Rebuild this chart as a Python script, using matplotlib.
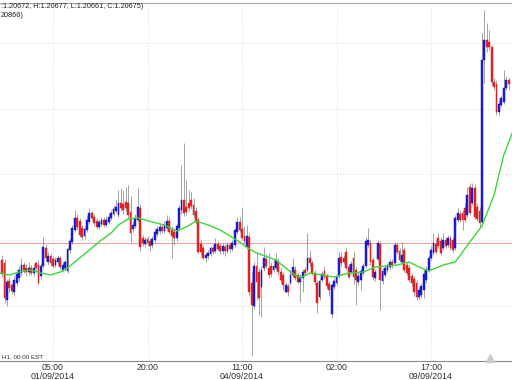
import numpy as np
import matplotlib
matplotlib.use("Agg")
import matplotlib.pyplot as plt

# H1 candles (oldest first)
opens = [
    1.20740, 1.20737, 1.20700, 1.20719, 1.20715, 1.20708, 1.20717, 1.20722, 1.20727, 1.20735,
    1.20732, 1.20728, 1.20732, 1.20727, 1.20737, 1.20735, 1.20724, 1.20734, 1.20752, 1.20738,
    1.20744, 1.20741, 1.20735, 1.20738, 1.20742, 1.20730, 1.20732, 1.20729, 1.20750, 1.20758,
    1.20770, 1.20782, 1.20779, 1.20772, 1.20764, 1.20770, 1.20778, 1.20787, 1.20783, 1.20779,
    1.20773, 1.20776, 1.20780, 1.20775, 1.20778, 1.20782, 1.20786, 1.20789, 1.20785, 1.20797,
    1.20796, 1.20798, 1.20797, 1.20788, 1.20771, 1.20774, 1.20780, 1.20792, 1.20762, 1.20756,
    1.20761, 1.20759, 1.20755, 1.20760, 1.20766, 1.20769, 1.20773, 1.20769, 1.20772, 1.20779,
    1.20770, 1.20768, 1.20762, 1.20772, 1.20790, 1.20800, 1.20793, 1.20797, 1.20800, 1.20795,
    1.20789, 1.20780, 1.20756, 1.20752, 1.20742, 1.20744, 1.20746, 1.20752, 1.20749, 1.20756,
    1.20754, 1.20749, 1.20753, 1.20749, 1.20755, 1.20751, 1.20755, 1.20768, 1.20778, 1.20771,
    1.20764, 1.20753, 1.20763, 1.20717, 1.20694, 1.20734, 1.20728, 1.20713, 1.20732, 1.20741,
    1.20732, 1.20734, 1.20730, 1.20732, 1.20738, 1.20728, 1.20725, 1.20708, 1.20714, 1.20717,
    1.20725, 1.20730, 1.20725, 1.20718, 1.20722, 1.20730, 1.20730, 1.20742, 1.20737, 1.20727,
    1.20717, 1.20703, 1.20720, 1.20729, 1.20724, 1.20716, 1.20686, 1.20713, 1.20717, 1.20724,
    1.20743, 1.20742, 1.20748, 1.20733, 1.20728, 1.20742, 1.20730, 1.20718, 1.20720, 1.20727,
    1.20734, 1.20755, 1.20757, 1.20740, 1.20722, 1.20741, 1.20756, 1.20719, 1.20725, 1.20730,
    1.20733, 1.20738, 1.20737, 1.20755, 1.20749, 1.20738, 1.20750, 1.20735, 1.20732, 1.20724,
    1.20721, 1.20717, 1.20703, 1.20705, 1.20710, 1.20720, 1.20730, 1.20742, 1.20747, 1.20756,
    1.20762, 1.20759, 1.20752, 1.20760, 1.20755, 1.20762, 1.20760, 1.20752, 1.20780, 1.20786,
    1.20787, 1.20792, 1.20785, 1.20813, 1.20797, 1.20812, 1.20793, 1.20789, 1.20778, 1.20940,
    1.20960, 1.20958, 1.20953, 1.20918, 1.20916, 1.20888, 1.20895, 1.20898, 1.20912, 1.20920,
]
highs = [
    1.20745, 1.20741, 1.20721, 1.20723, 1.20717, 1.20724, 1.20730, 1.20734, 1.20742, 1.20738,
    1.20736, 1.20738, 1.20735, 1.20736, 1.20739, 1.20740, 1.20737, 1.20763, 1.20756, 1.20748,
    1.20747, 1.20744, 1.20743, 1.20745, 1.20744, 1.20738, 1.20740, 1.20753, 1.20762, 1.20775,
    1.20790, 1.20786, 1.20782, 1.20775, 1.20774, 1.20784, 1.20792, 1.20789, 1.20786, 1.20782,
    1.20781, 1.20783, 1.20783, 1.20784, 1.20787, 1.20790, 1.20795, 1.20800, 1.20810, 1.20812,
    1.20810, 1.20813, 1.20815, 1.20804, 1.20778, 1.20786, 1.20812, 1.20796, 1.20765, 1.20763,
    1.20764, 1.20762, 1.20764, 1.20771, 1.20774, 1.20776, 1.20776, 1.20779, 1.20785, 1.20783,
    1.20774, 1.20772, 1.20776, 1.20795, 1.20835, 1.20857, 1.20820, 1.20810, 1.20808, 1.20802,
    1.20793, 1.20783, 1.20760, 1.20755, 1.20748, 1.20750, 1.20754, 1.20755, 1.20762, 1.20759,
    1.20757, 1.20757, 1.20756, 1.20758, 1.20758, 1.20760, 1.20772, 1.20783, 1.20783, 1.20792,
    1.20774, 1.20775, 1.20767, 1.20728, 1.20738, 1.20747, 1.20732, 1.20734, 1.20753, 1.20746,
    1.20747, 1.20738, 1.20740, 1.20747, 1.20742, 1.20732, 1.20728, 1.20718, 1.20717, 1.20729,
    1.20742, 1.20734, 1.20728, 1.20726, 1.20731, 1.20733, 1.20767, 1.20750, 1.20740, 1.20730,
    1.20720, 1.20722, 1.20729, 1.20734, 1.20727, 1.20719, 1.20717, 1.20722, 1.20726, 1.20748,
    1.20748, 1.20745, 1.20752, 1.20736, 1.20739, 1.20749, 1.20733, 1.20727, 1.20732, 1.20737,
    1.20763, 1.20772, 1.20760, 1.20743, 1.20731, 1.20760, 1.20759, 1.20732, 1.20735, 1.20737,
    1.20741, 1.20741, 1.20758, 1.20757, 1.20752, 1.20758, 1.20753, 1.20738, 1.20735, 1.20727,
    1.20724, 1.20720, 1.20713, 1.20717, 1.20730, 1.20734, 1.20745, 1.20754, 1.20767, 1.20760,
    1.20767, 1.20763, 1.20767, 1.20763, 1.20765, 1.20765, 1.20763, 1.20785, 1.20792, 1.20789,
    1.20790, 1.20797, 1.20813, 1.20817, 1.20817, 1.20816, 1.20797, 1.20793, 1.20967, 1.20990,
    1.20977, 1.20970, 1.20955, 1.20922, 1.20920, 1.20900, 1.20905, 1.20930, 1.20924, 1.20923,
]
lows = [
    1.20723, 1.20697, 1.20694, 1.20708, 1.20706, 1.20705, 1.20714, 1.20719, 1.20724, 1.20727,
    1.20724, 1.20724, 1.20725, 1.20724, 1.20729, 1.20715, 1.20721, 1.20732, 1.20739, 1.20735,
    1.20734, 1.20732, 1.20733, 1.20735, 1.20731, 1.20728, 1.20729, 1.20727, 1.20747, 1.20756,
    1.20768, 1.20770, 1.20763, 1.20760, 1.20761, 1.20768, 1.20776, 1.20780, 1.20774, 1.20771,
    1.20771, 1.20774, 1.20773, 1.20773, 1.20776, 1.20780, 1.20784, 1.20787, 1.20783, 1.20789,
    1.20786, 1.20789, 1.20782, 1.20758, 1.20768, 1.20772, 1.20778, 1.20749, 1.20754, 1.20753,
    1.20754, 1.20749, 1.20752, 1.20757, 1.20764, 1.20766, 1.20767, 1.20767, 1.20770, 1.20766,
    1.20742, 1.20755, 1.20759, 1.20769, 1.20786, 1.20784, 1.20785, 1.20789, 1.20791, 1.20783,
    1.20776, 1.20746, 1.20745, 1.20740, 1.20738, 1.20741, 1.20744, 1.20746, 1.20747, 1.20749,
    1.20746, 1.20746, 1.20744, 1.20747, 1.20748, 1.20749, 1.20753, 1.20766, 1.20768, 1.20760,
    1.20757, 1.20751, 1.20704, 1.20644, 1.20691, 1.20700, 1.20685, 1.20683, 1.20729, 1.20732,
    1.20722, 1.20723, 1.20728, 1.20730, 1.20725, 1.20717, 1.20710, 1.20707, 1.20704, 1.20715,
    1.20723, 1.20720, 1.20716, 1.20698, 1.20708, 1.20725, 1.20728, 1.20734, 1.20725, 1.20715,
    1.20687, 1.20700, 1.20718, 1.20721, 1.20711, 1.20704, 1.20682, 1.20711, 1.20715, 1.20722,
    1.20734, 1.20736, 1.20730, 1.20721, 1.20726, 1.20716, 1.20695, 1.20715, 1.20710, 1.20725,
    1.20732, 1.20753, 1.20735, 1.20720, 1.20719, 1.20739, 1.20690, 1.20716, 1.20723, 1.20728,
    1.20731, 1.20732, 1.20735, 1.20746, 1.20738, 1.20736, 1.20728, 1.20725, 1.20718, 1.20714,
    1.20704, 1.20700, 1.20700, 1.20702, 1.20702, 1.20717, 1.20728, 1.20740, 1.20745, 1.20746,
    1.20752, 1.20745, 1.20750, 1.20752, 1.20753, 1.20750, 1.20748, 1.20750, 1.20778, 1.20778,
    1.20770, 1.20778, 1.20783, 1.20785, 1.20795, 1.20781, 1.20779, 1.20773, 1.20774, 1.20917,
    1.20948, 1.20950, 1.20915, 1.20910, 1.20885, 1.20885, 1.20893, 1.20896, 1.20910, 1.20910,
]
closes = [
    1.20726, 1.20702, 1.20718, 1.20712, 1.20709, 1.20720, 1.20726, 1.20730, 1.20735, 1.20730,
    1.20728, 1.20732, 1.20727, 1.20732, 1.20732, 1.20717, 1.20734, 1.20753, 1.20742, 1.20744,
    1.20737, 1.20734, 1.20740, 1.20742, 1.20733, 1.20735, 1.20738, 1.20751, 1.20759, 1.20772,
    1.20782, 1.20773, 1.20765, 1.20763, 1.20771, 1.20780, 1.20787, 1.20782, 1.20777, 1.20773,
    1.20778, 1.20780, 1.20775, 1.20780, 1.20783, 1.20787, 1.20791, 1.20793, 1.20797, 1.20792,
    1.20790, 1.20792, 1.20785, 1.20767, 1.20775, 1.20782, 1.20793, 1.20753, 1.20757, 1.20760,
    1.20757, 1.20754, 1.20761, 1.20768, 1.20771, 1.20773, 1.20769, 1.20775, 1.20779, 1.20768,
    1.20764, 1.20762, 1.20774, 1.20792, 1.20800, 1.20787, 1.20788, 1.20792, 1.20794, 1.20785,
    1.20778, 1.20748, 1.20748, 1.20742, 1.20745, 1.20747, 1.20752, 1.20748, 1.20756, 1.20751,
    1.20749, 1.20754, 1.20749, 1.20755, 1.20751, 1.20757, 1.20770, 1.20778, 1.20770, 1.20762,
    1.20759, 1.20764, 1.20708, 1.20695, 1.20734, 1.20718, 1.20702, 1.20730, 1.20742, 1.20734,
    1.20725, 1.20726, 1.20734, 1.20740, 1.20728, 1.20720, 1.20715, 1.20715, 1.20708, 1.20725,
    1.20733, 1.20722, 1.20718, 1.20723, 1.20728, 1.20727, 1.20742, 1.20737, 1.20727, 1.20718,
    1.20697, 1.20719, 1.20726, 1.20723, 1.20714, 1.20710, 1.20715, 1.20719, 1.20723, 1.20742,
    1.20737, 1.20738, 1.20732, 1.20723, 1.20736, 1.20723, 1.20720, 1.20724, 1.20729, 1.20734,
    1.20759, 1.20760, 1.20738, 1.20723, 1.20728, 1.20757, 1.20720, 1.20729, 1.20732, 1.20735,
    1.20738, 1.20735, 1.20755, 1.20748, 1.20740, 1.20745, 1.20730, 1.20727, 1.20720, 1.20717,
    1.20708, 1.20703, 1.20710, 1.20714, 1.20726, 1.20730, 1.20742, 1.20750, 1.20757, 1.20748,
    1.20754, 1.20747, 1.20760, 1.20754, 1.20762, 1.20752, 1.20750, 1.20782, 1.20787, 1.20780,
    1.20780, 1.20780, 1.20805, 1.20787, 1.20812, 1.20783, 1.20781, 1.20777, 1.20940, 1.20960,
    1.20953, 1.20953, 1.20918, 1.20913, 1.20888, 1.20896, 1.20902, 1.20912, 1.20920, 1.20916,
]

# moving average (green), sampled along the line
ma_bars = [-1, 3, 7, 12, 16, 20, 24, 27, 32, 36, 41, 45, 48, 52, 56, 62, 67, 72, 76, 80,
           85, 90, 94, 98, 102, 105, 113, 118, 123, 127, 132, 137, 143, 149, 154, 163, 168, 172, 176, 182,
           187, 193, 198, 203, 207, 211]
ma_values = [1.20727, 1.20725, 1.20728, 1.20730, 1.20727, 1.20725, 1.20728, 1.20732, 1.20742, 1.20750,
             1.20760, 1.20767, 1.20775, 1.20781, 1.20782, 1.20778, 1.20775, 1.20769, 1.20773, 1.20779,
             1.20775, 1.20770, 1.20764, 1.20758, 1.20751, 1.20747, 1.20740, 1.20730, 1.20722, 1.20727,
             1.20725, 1.20723, 1.20727, 1.20728, 1.20733, 1.20735, 1.20738, 1.20733, 1.20729, 1.20735,
             1.20738, 1.20758, 1.20774, 1.20805, 1.20845, 1.20870]

tick_bars = [21, 60, 99, 138, 177]
tick_labels = ["05:00\n01/09/2014", "20:00", "11:00\n04/09/2014", "02:00", "17:00\n09/09/2014"]
grid_levels = [1.20694, 1.20760, 1.20826, 1.20891, 1.20957]
price_line = 1.20757
# only the visible part of the header (the chart window cuts off its start)
header = ":1.20672, H:1.20677, L:1.20661, C:1.20675)"
header2 = "20866)"
period_note = "H1, 00:00 EST"

plt.rcParams["font.family"] = ["Liberation Sans", "DejaVu Sans"]

o = np.array(opens)
c = np.array(closes)
h = np.array(highs)
l = np.array(lows)
idx = np.arange(len(o))
up = c >= o
colors = np.where(up, "#1a1ad2", "#e22222")

fig = plt.figure(figsize=(5.12, 3.80), dpi=100)
ax = fig.add_axes([0, 1 - 361 / 380, 1, (361 - 2.5) / 380])

ax.vlines(idx, l, h, color="#8a8a8a", linewidth=0.55, zorder=2)
ax.bar(idx, np.abs(c - o), bottom=np.minimum(o, c), width=0.75,
       color=colors, edgecolor=colors, linewidth=0.35, zorder=3)

ax.plot(ma_bars, ma_values, color="#38d838", linewidth=1.0, zorder=4)
ax.axhline(price_line, color="#f0a4a4", linewidth=0.8, zorder=1)

ax.set_xlim(-0.87, 210.4)
ax.set_ylim(1.21 - 361e-5, 1.21 - 2.5e-5)

ax.set_xticks(tick_bars)
ax.set_xticklabels(tick_labels)
ax.set_yticks(grid_levels)
ax.set_yticklabels([])
ax.tick_params(axis="x", length=0, pad=1.5, labelsize=6.3, colors="#303030")
ax.tick_params(axis="y", length=0)
for lab in ax.get_xticklabels():
    lab.set_linespacing(1.0)

ax.grid(True, color="#d2d2d2", linestyle=(0, (1, 2)), linewidth=0.6)
ax.set_axisbelow(True)

for side in ["left", "right"]:
    ax.spines[side].set_visible(False)
ax.spines["top"].set_color("#a8a8a8")
ax.spines["top"].set_linewidth(0.8)
ax.spines["bottom"].set_color("#8c8c8c")
ax.spines["bottom"].set_linewidth(0.8)

# chart shift marker on the time axis
ax.plot([201.5], [0.009], marker="^", markersize=5.5, color="#cccccc",
        transform=ax.get_xaxis_transform(), clip_on=False, zorder=5)

fig.text(1 / 512, 1 - 3.5 / 380, header, ha="left", va="top", fontsize=5.2, color="#202020")
fig.text(1 / 512, 1 - 12 / 380, header2, ha="left", va="top", fontsize=5.2, color="#202020")
fig.text(2 / 512, 1 - 358 / 380, period_note, ha="left", va="baseline", fontsize=4.5, color="#303030")

fig.savefig("out.png", dpi=100)
plt.close(fig)
